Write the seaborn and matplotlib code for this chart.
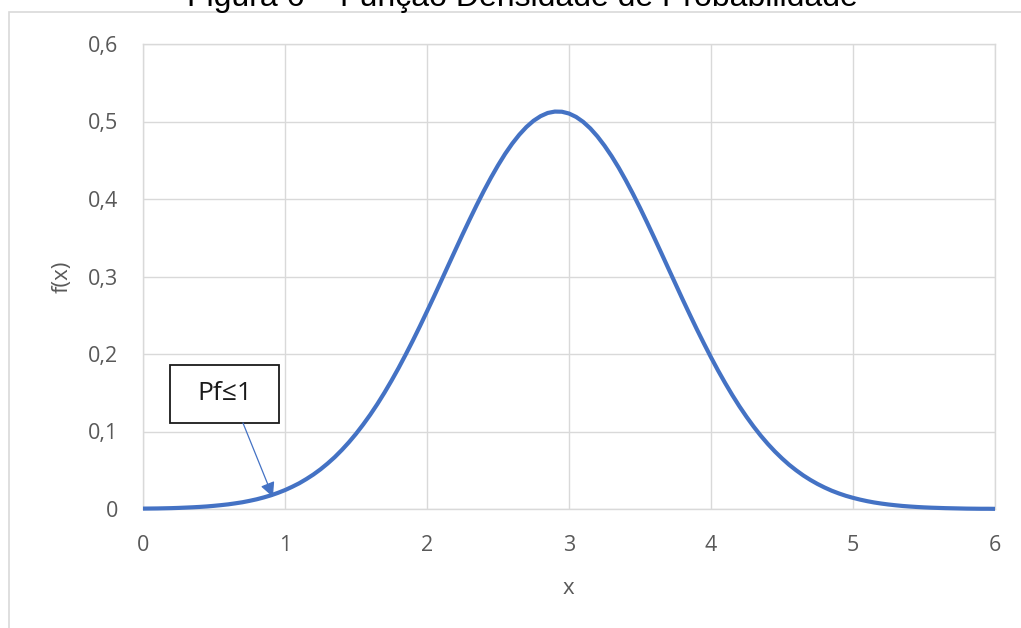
import numpy as np
import pandas as pd
import matplotlib
matplotlib.use("Agg")
import matplotlib.pyplot as plt
from matplotlib.patches import Rectangle
import seaborn as sns

# Density values sampled every 0.05 on x from 0 to 6
x_values = [round(0.05 * i, 2) for i in range(121)]
density = [
    0.0005, 0.0006, 0.0007, 0.0009, 0.0011, 0.0014, 0.0018, 0.0022, 0.0027, 0.0033,
    0.0041, 0.0050, 0.0060, 0.0073, 0.0087, 0.0105, 0.0125, 0.0149, 0.0176, 0.0208,
    0.0244, 0.0286, 0.0332, 0.0386, 0.0445, 0.0512, 0.0587, 0.0669, 0.0761, 0.0861,
    0.0970, 0.1089, 0.1216, 0.1353, 0.1500, 0.1656, 0.1820, 0.1993, 0.2172, 0.2358,
    0.2550, 0.2745, 0.2944, 0.3144, 0.3343, 0.3541, 0.3734, 0.3922, 0.4103, 0.4274,
    0.4434, 0.4582, 0.4714, 0.4830, 0.4929, 0.5009, 0.5069, 0.5110, 0.5128, 0.5126,
    0.5103, 0.5059, 0.4995, 0.4911, 0.4808, 0.4688, 0.4553, 0.4404, 0.4241, 0.4068,
    0.3886, 0.3696, 0.3501, 0.3303, 0.3103, 0.2904, 0.2705, 0.2511, 0.2320, 0.2136,
    0.1957, 0.1786, 0.1624, 0.1470, 0.1325, 0.1190, 0.1064, 0.0947, 0.0840, 0.0742,
    0.0653, 0.0571, 0.0499, 0.0433, 0.0375, 0.0323, 0.0277, 0.0236, 0.0201, 0.0170,
    0.0144, 0.0121, 0.0101, 0.0084, 0.0070, 0.0058, 0.0048, 0.0039, 0.0032, 0.0026,
    0.0021, 0.0017, 0.0014, 0.0011, 0.0009, 0.0007, 0.0005, 0.0004, 0.0003, 0.0003,
    0.0002,
]
x_ticks = [0, 1, 2, 3, 4, 5, 6]
y_ticks = [0, 0.1, 0.2, 0.3, 0.4, 0.5, 0.6]
y_tick_labels = ["0", "0,1", "0,2", "0,3", "0,4", "0,5", "0,6"]

title = "Figura 6 – Função Densidade de Probabilidade"
note_text = "Pf≤1"
note_box = (0.19, 0.111, 0.958, 0.186)   # x0, y0, x1, y1 in data units
note_arrow_start = (0.704, 0.111)
note_arrow_end = (0.915, 0.0155)

sns.set_style("white")
plt.rcParams["font.family"] = ["Open Sans", "DejaVu Sans"]

grid_color = "#D9D9D9"
label_color = "#595959"
line_color = "#4472C4"

fig = plt.figure(figsize=(10.21, 6.28), dpi=100)
ax = fig.add_axes([143 / 1021, 1 - 509 / 628, 852 / 1021, 465 / 628])

df = pd.DataFrame({"x": x_values, "f": density})
sns.lineplot(data=df, x="x", y="f", ax=ax, color=line_color, linewidth=3.0,
             clip_on=False, zorder=3, solid_joinstyle="round",
             solid_capstyle="butt")

ax.set_xlim(0, 6)
ax.set_ylim(0, 0.6)
ax.set_xticks(x_ticks)
ax.set_xticklabels([str(t) for t in x_ticks])
ax.set_yticks(y_ticks)
ax.set_yticklabels(y_tick_labels)
ax.grid(True, color=grid_color, linewidth=1.0)
ax.set_axisbelow(True)
for side in ax.spines.values():
    side.set_color(grid_color)
    side.set_linewidth(1.0)
ax.tick_params(axis="both", length=0, labelsize=15.5, labelcolor=label_color)
ax.tick_params(axis="x", pad=19)
ax.tick_params(axis="y", pad=18)

ax.set_xlabel("")
ax.set_ylabel("")
fig.text(568 / 1021, 1 - 588 / 628, "x", ha="center", va="center",
         fontsize=16, color=label_color)
fig.text(62 / 1021, 1 - 277 / 628, "f(x)", ha="center", va="center",
         rotation=90, fontsize=16, color=label_color)

# Annotation box with arrow pointing at the left tail
x0, y0, x1, y1 = note_box
ax.add_patch(Rectangle((x0, y0), x1 - x0, y1 - y0, facecolor="white",
                       edgecolor="#1a1a1a", linewidth=1.3, zorder=5))
ax.text((x0 + x1) / 2, (y0 + y1) / 2, note_text, ha="center", va="center",
        fontsize=19, color="#1a1a1a", zorder=6)
ax.annotate("", xy=note_arrow_end, xytext=note_arrow_start,
            arrowprops=dict(arrowstyle="-|>", color=line_color, lw=0.9,
                            mutation_scale=22, shrinkA=0, shrinkB=0),
            zorder=6)

# Chart frame and clipped title
fig.patches.append(Rectangle((9 / 1021, -0.1), 2.0, 1.1 - 12.5 / 628,
                             transform=fig.transFigure, fill=False,
                             edgecolor=grid_color, linewidth=1.2))
fig.text(0.512, 1 - 6 / 628, title, ha="center", va="baseline",
         fontsize=23, color="black", family=["Liberation Sans", "DejaVu Sans"])

fig.savefig("out.png", dpi=100)
